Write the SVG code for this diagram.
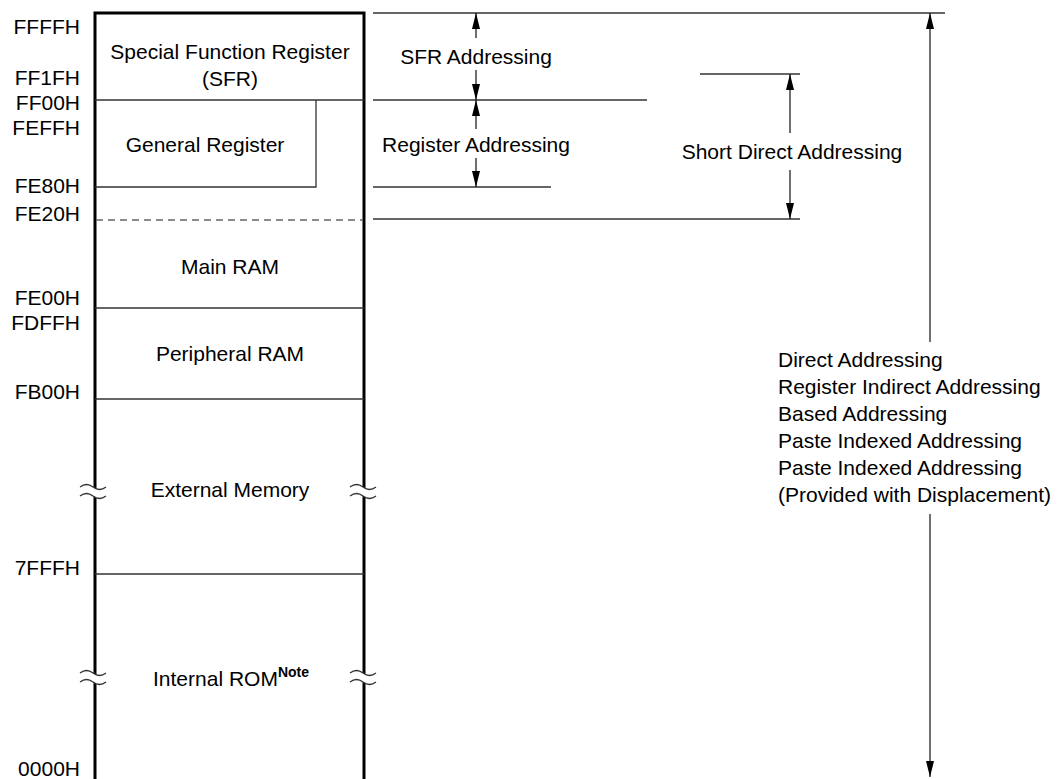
<svg xmlns="http://www.w3.org/2000/svg" width="1057" height="779" viewBox="0 0 1057 779">
<style>
text{font-family:"Liberation Sans",Arial,Helvetica,sans-serif;font-size:21px;fill:#000}
.lbl{text-anchor:end}
.c{text-anchor:middle}
.thin{stroke:#333;stroke-width:1.3;fill:none}
.dash{stroke:#666;stroke-width:1.3;stroke-dasharray:7 5;fill:none}
.outer{stroke:#000;stroke-width:3;fill:none}
.arr{stroke:#222;stroke-width:1.3;fill:none;marker-end:url(#ah)}
.wave{stroke:none;fill:#fff}
.note{font-size:14px;font-weight:bold}
</style>
<defs>
<marker id="ah" viewBox="0 0 16 8" refX="16" refY="4" markerWidth="16" markerHeight="8" markerUnits="userSpaceOnUse" orient="auto">
<path d="M0,0 L16,4 L0,8 z" fill="#000"/>
</marker>
</defs>
<rect width="1057" height="779" fill="#fff"/>

<g id="address-labels">
<text class="lbl" x="80" y="34">FFFFH</text>
<text class="lbl" x="80" y="85">FF1FH</text>
<text class="lbl" x="80" y="110">FF00H</text>
<text class="lbl" x="80" y="135">FEFFH</text>
<text class="lbl" x="80" y="193">FE80H</text>
<text class="lbl" x="80" y="221">FE20H</text>
<text class="lbl" x="80" y="305">FE00H</text>
<text class="lbl" x="80" y="330">FDFFH</text>
<text class="lbl" x="80" y="399">FB00H</text>
<text class="lbl" x="80" y="575">7FFFH</text>
<text class="lbl" x="80" y="776">0000H</text>
</g>

<g id="memory-map">
<path class="outer" d="M95,790 V13 H364 V790"/>
</g>

<g id="sfr">
<line class="thin" x1="95" y1="100" x2="364" y2="100"/>
<text class="c" x="230" y="59">Special Function Register</text>
<text class="c" x="230" y="86">(SFR)</text>
</g>

<g id="general-register">
<path class="thin" d="M95,187 H316 V100"/>
<text class="c" x="205" y="152">General Register</text>
</g>

<g id="main-ram">
<line class="dash" x1="96" y1="220" x2="363" y2="220"/>
<line class="thin" x1="95" y1="308" x2="364" y2="308"/>
<text class="c" x="230" y="274">Main RAM</text>
</g>

<g id="peripheral-ram">
<line class="thin" x1="95" y1="399" x2="364" y2="399"/>
<text class="c" x="230" y="361">Peripheral RAM</text>
</g>

<g id="external-memory">
<line class="thin" x1="95" y1="574" x2="364" y2="574"/>
<path class="wave" d="M80,487 q6.5,-5 13,0 t13,0 L106,496 q-6.5,5 -13,0 t-13,0 z"/>
<path class="wave" d="M350,487 q6.5,-5 13,0 t13,0 L376,496 q-6.5,5 -13,0 t-13,0 z"/>
<path d="M80,487 q6.5,-5 13,0 t13,0 M80,496 q6.5,-5 13,0 t13,0 M350,487 q6.5,-5 13,0 t13,0 M350,496 q6.5,-5 13,0 t13,0" class="thin"/>
<text class="c" x="230" y="497">External Memory</text>
</g>

<g id="internal-rom">
<path class="wave" d="M80,673 q6.5,-5 13,0 t13,0 L106,682 q-6.5,5 -13,0 t-13,0 z"/>
<path class="wave" d="M350,673 q6.5,-5 13,0 t13,0 L376,682 q-6.5,5 -13,0 t-13,0 z"/>
<path d="M80,673 q6.5,-5 13,0 t13,0 M80,682 q6.5,-5 13,0 t13,0 M350,673 q6.5,-5 13,0 t13,0 M350,682 q6.5,-5 13,0 t13,0" class="thin"/>
<text x="153" y="686">Internal ROM<tspan class="note" dy="-9">Note</tspan></text>
</g>

<g id="connectors">
<line class="thin" x1="373" y1="13" x2="945" y2="13"/>
<line class="thin" x1="373" y1="100" x2="647" y2="100"/>
<line class="thin" x1="373" y1="187" x2="551" y2="187"/>
<line class="thin" x1="700" y1="74" x2="800" y2="74"/>
<line class="thin" x1="373" y1="219" x2="800" y2="219"/>
<line class="arr" x1="476" y1="38" x2="476" y2="13"/>
<line class="arr" x1="476" y1="70" x2="476" y2="100"/>
<line class="arr" x1="476" y1="129" x2="476" y2="100"/>
<line class="arr" x1="476" y1="158" x2="476" y2="187"/>
<line class="arr" x1="790" y1="133" x2="790" y2="74"/>
<line class="arr" x1="790" y1="170" x2="790" y2="219"/>
<line class="arr" x1="930" y1="342" x2="930" y2="13"/>
<line class="arr" x1="930" y1="514" x2="930" y2="777"/>
</g>

<g id="addressing-labels">
<text class="c" x="476" y="64">SFR Addressing</text>
<text class="c" x="476" y="152">Register Addressing</text>
<text class="c" x="792" y="159">Short Direct Addressing</text>
<text x="778" y="367">Direct Addressing</text>
<text x="778" y="394">Register Indirect Addressing</text>
<text x="778" y="421">Based Addressing</text>
<text x="778" y="448">Paste Indexed Addressing</text>
<text x="778" y="475">Paste Indexed Addressing</text>
<text x="778" y="502">(Provided with Displacement)</text>
</g>
</svg>
